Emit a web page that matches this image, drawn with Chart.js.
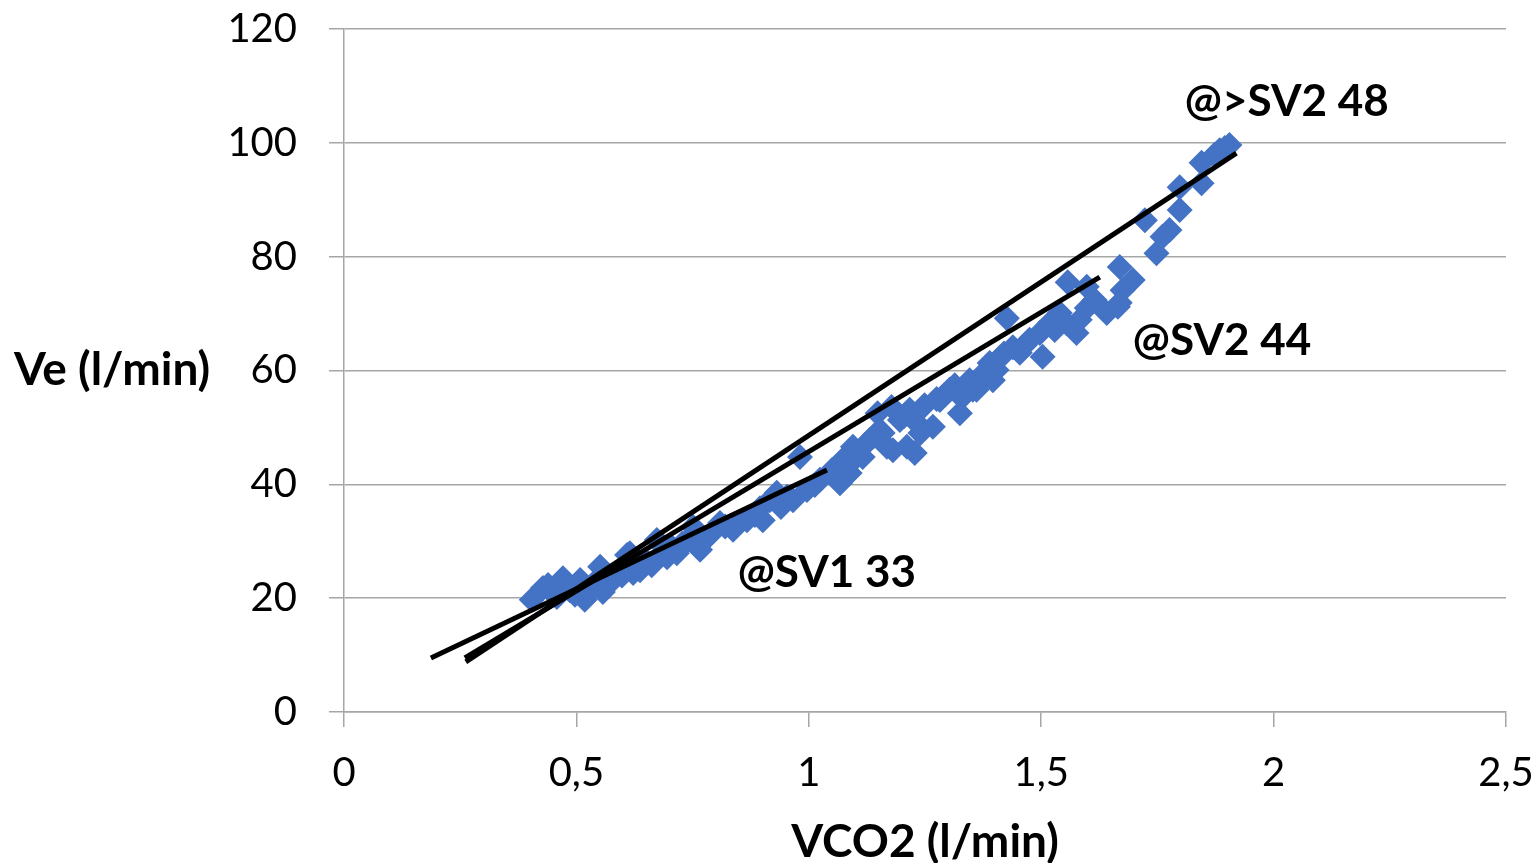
<!DOCTYPE html>
<html>
<head>
<meta charset="utf-8">
<script src="https://cdn.jsdelivr.net/npm/chart.js@4.4.1/dist/chart.umd.min.js"></script>
<style>
  html, body { margin: 0; padding: 0; background: #ffffff; }
  #wrap { width: 1537px; height: 863px; position: relative; }
</style>
</head>
<body>
<div id="wrap"><canvas id="c" width="1537" height="863"></canvas></div>
<script>
// ---- data ----
const vco2 = [
  0.404,0.428,0.458,0.471,0.439,0.486,0.508,0.518,0.497,0.533,
  0.551,0.557,0.576,0.589,0.615,0.622,0.609,0.637,0.647,0.673,
  0.695,0.716,0.751,0.766,0.740,0.809,0.837,0.867,0.895,0.901,
  0.916,0.931,0.953,0.966,0.981,0.996,1.024,1.013,1.067,1.073,
  1.088,1.095,1.103,1.116,1.131,1.148,1.159,1.168,1.178,1.181,
  1.196,1.211,1.228,1.217,1.232,1.267,1.282,1.303,1.325,1.353,
  1.368,1.396,1.346,1.361,1.389,1.404,1.426,1.439,1.454,1.497,
  1.503,1.518,1.540,1.555,1.576,1.598,1.641,1.665,1.557,1.598,
  1.669,1.697,1.675,1.669,1.748,1.723,1.761,1.776,1.798,1.798,
  1.845,1.845,1.884,1.905,1.895,1.873,
  0.568,0.662,0.680,0.787,0.852,0.884,
  1.153,1.249,1.292,1.314,1.378,1.335,1.411,1.475,1.529,1.583,1.615,
  0.448,0.478,0.522,0.542,0.598,0.630,0.705,0.728,0.778,0.820,
  0.940,1.050,1.140,1.205,1.240,1.275,1.320,1.420,1.465,1.545
];
const ve = [
  19.7,21.8,20.2,23.5,22.3,21.4,23.2,19.7,20.6,21.8,
  25.5,21.1,23.5,24.6,27.9,24.4,27.6,24.9,26.7,30.2,
  27.2,27.9,32.5,28.5,30.2,33.2,32.0,33.7,35.8,33.7,
  37.2,38.5,37.8,37.2,44.8,39.0,40.8,39.9,40.2,44.3,
  42.0,46.6,44.8,44.8,47.8,52.5,49.0,46.6,53.6,46.0,
  51.3,46.6,45.5,53.1,50.8,50.1,54.8,56.6,52.5,56.6,
  57.8,58.3,58.3,56.6,61.3,60.1,69.2,64.1,63.1,66.6,
  62.4,68.3,70.1,68.3,66.6,71.0,70.1,71.2,75.5,74.7,
  78.2,75.9,74.1,71.9,80.6,86.4,83.5,84.7,88.2,92.2,
  96.5,92.9,98.7,99.6,99.1,97.9,
  22.3,25.8,27.6,31.1,33.4,34.6,
  49.5,53.9,55.7,57.4,59.7,55.7,62.2,65.4,67.1,68.9,72.4,
  21.0,22.6,22.0,23.0,24.0,26.0,29.0,29.6,30.5,32.6,
  36.0,42.5,48.5,52.0,49.0,55.0,56.0,63.0,64.5,69.0
];
// regression lines: [x0, x1], [y0, y1]
const sv1X = [0.187, 1.039];  const sv1Y = [9.5, 42.5];
const sv2X = [0.260, 1.626];  const sv2Y = [9.5, 76.4];
const gtX  = [0.262, 1.920];  const gtY  = [8.8, 98.2];
// annotation labels (data coordinates of left / middle)
const labelTexts = ['@>SV2 48', '@SV2 44', '@SV1 33'];
const labelX = [1.809, 1.697, 0.847];
const labelY = [107.2, 65.2, 24.4];
const xTicks = [0, 0.5, 1, 1.5, 2, 2.5];
const yTicks = [0, 20, 40, 60, 80, 100, 120];
const xTitle = 'VCO2 (l/min)';
const yTitle = 'Ve (l/min)';

const FONT = 'Lato, "Open Sans", "Noto Sans", sans-serif';
const GRID = '#A6A6A6';

const pts = vco2.map((x, i) => ({ x: x, y: ve[i] }));
const seg = (xs, ys) => xs.map((x, i) => ({ x: x, y: ys[i] }));

const textPlugin = {
  id: 'texts',
  afterDraw(chart) {
    const ctx = chart.ctx;
    const xs = chart.scales.x, ys = chart.scales.y;
    ctx.save();
    ctx.fillStyle = '#000000';
    ctx.font = 'bold 44px ' + FONT;
    ctx.textBaseline = 'middle';
    ctx.textAlign = 'left';
    labelTexts.forEach((t, i) => {
      ctx.fillText(t, xs.getPixelForValue(labelX[i]), ys.getPixelForValue(labelY[i]));
    });
    // y title, horizontal
    ctx.font = 'bold 46px ' + FONT;
    ctx.fillText(yTitle, 14, ys.getPixelForValue(60));
    // x title
    ctx.textAlign = 'center';
    ctx.fillText(xTitle, (chart.chartArea.left + chart.chartArea.right) / 2, 842);
    ctx.restore();
  }
};

new Chart(document.getElementById('c'), {
  type: 'scatter',
  data: {
    datasets: [
      { type: 'line', data: seg(gtX, gtY), borderColor: '#000', borderWidth: 5, pointRadius: 0, fill: false, order: 0, borderCapStyle: 'butt' },
      { type: 'line', data: seg(sv2X, sv2Y), borderColor: '#000', borderWidth: 5, pointRadius: 0, fill: false, order: 0, borderCapStyle: 'butt' },
      { type: 'line', data: seg(sv1X, sv1Y), borderColor: '#000', borderWidth: 5, pointRadius: 0, fill: false, order: 0, borderCapStyle: 'butt' },
      { label: 'Ve', data: pts, pointStyle: 'rectRot', pointRadius: 13, pointHoverRadius: 13,
        backgroundColor: '#4472C4', borderColor: '#4472C4', borderWidth: 0, order: 1 }
    ]
  },
  options: {
    responsive: false,
    animation: false,
    events: [],
    layout: { padding: { left: 0, right: 31, top: 29, bottom: 0 } },
    plugins: { legend: { display: false }, tooltip: { enabled: false } },
    scales: {
      x: {
        type: 'linear', min: 0, max: 2.5,
        afterBuildTicks: (s) => { s.ticks = xTicks.map(v => ({ value: v })); },
        afterFit: (s) => { s.height = 151; s.paddingLeft = 0; s.paddingRight = 0; },
        ticks: {
          font: { family: FONT, size: 40 }, color: '#000', padding: 22,
          callback: (v) => String(v).replace('.', ',')
        },
        grid: { display: true, drawOnChartArea: false, drawTicks: true, tickLength: 15, color: GRID, lineWidth: 1.5 },
        border: { display: true, color: GRID, width: 1.5 }
      },
      y: {
        type: 'linear', min: 0, max: 120,
        afterBuildTicks: (s) => { s.ticks = yTicks.map(v => ({ value: v })); },
        afterFit: (s) => { s.width = 344; s.paddingTop = 0; s.paddingBottom = 0; },
        ticks: { font: { family: FONT, size: 40 }, color: '#000', padding: 32 },
        grid: { display: true, drawOnChartArea: true, drawTicks: true, tickLength: 15, color: GRID, lineWidth: 1.5 },
        border: { display: true, color: GRID, width: 1.5 }
      }
    }
  },
  plugins: [textPlugin]
});
</script>
</body>
</html>
